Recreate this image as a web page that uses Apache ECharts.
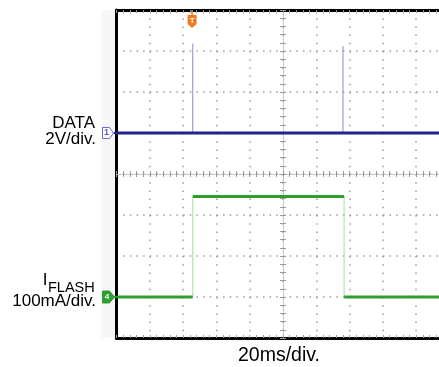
<!DOCTYPE html>
<html><head><meta charset="utf-8">
<script src="https://cdn.jsdelivr.net/npm/echarts@6/dist/echarts.min.js"></script>
<style>html,body{margin:0;padding:0;background:#fff}#c{width:439px;height:367px}</style>
</head><body><div id="c"></div>
<script>
// Horizontal: time in ms relative to screen centre, 20 ms/div, 10 divisions
const timeMin = -100, timeMax = 100, timeStep = 20;
// Vertical: screen divisions, 8 divisions
const divMin = -4, divMax = 4, divStep = 1;

// DATA channel (in divisions, 2V/div)
const dataBaseTimes = [-100, 100];
const dataBaseLevel = 1.0;
const dataPulseTimes = [-54.2, 36.0];
const dataPulseTops = [3.18, 3.12];

// I_FLASH channel (in divisions, 100mA/div)
const flashTimes = [-100, -54.2, 36.7, 100];   // segment boundaries
const flashLevels = [-3.0, -0.55, -3.0];        // level within each segment

const triggerTime = -54.6;

// text
const ch1Name = 'DATA', ch1Scale = '2V/div.';
const ch2Main = 'I', ch2Sub = 'FLASH', ch2Scale = '100mA/div.';
const timeScale = '20ms/div.';

const FONT = '"Liberation Sans", Arial, sans-serif';
const GRID = {left: 116.5, top: 10, width: 333, height: 328, outerBoundsMode: 'none', containLabel: false};
const dotCol = '#9a9a9a';

const series = [];
// DATA baseline (thick)
series.push({type:'line', data: dataBaseTimes.map(t => [t, dataBaseLevel]),
  symbol:'none', lineStyle:{color:'#23238e', width:3}, z:5});
// DATA pulses (thin)
dataPulseTimes.forEach((t, i) => series.push({type:'line',
  data: [[t, dataBaseLevel], [t, dataPulseTops[i]]],
  symbol:'none', lineStyle:{color:'#8a8ad6', width:1}, z:4}));
// FLASH edges (thin)
for (let i = 1; i < flashTimes.length - 1; i++) {
  series.push({type:'line', data: [[flashTimes[i], flashLevels[i-1]], [flashTimes[i], flashLevels[i]]],
    symbol:'none', lineStyle:{color:'#a6dca6', width:1}, z:4});
}
// FLASH levels (thick)
for (let i = 0; i < flashLevels.length; i++) {
  series.push({type:'line', data: [[flashTimes[i], flashLevels[i]], [flashTimes[i+1], flashLevels[i]]],
    symbol:'none', lineStyle:{color:'#2e9e2e', width:3}, z:5});
}
series.forEach(s => { s.silent = true; s.animation = false; s.xAxisIndex = 0; s.yAxisIndex = 0; });

const baseX = {type:'value', min: timeMin, max: timeMax, interval: timeStep,
  axisLabel:{show:false}, splitLine:{show:false}};
const baseY = {type:'value', min: divMin, max: divMax, interval: divStep,
  axisLabel:{show:false}, splitLine:{show:false}};

const option = {
  animation:false,
  backgroundColor:'#fff',
  grid: GRID,
  xAxis: [
    Object.assign({}, baseX, {position:'bottom',
      axisLine:{onZero:false, lineStyle:{color:'#000', width:3}},
      axisTick:{show:true, inside:true, length:3, lineStyle:{color:dotCol}},
      minorTick:{show:true, splitNumber:5, length:3, lineStyle:{color:dotCol}},
      splitLine:{show:true, lineStyle:{color:dotCol, width:1.5, type:[1.5, 6.7]}}}),
    Object.assign({}, baseX, {position:'top',
      axisLine:{onZero:false, lineStyle:{color:'#000', width:3}},
      axisTick:{show:true, inside:true, length:3, lineStyle:{color:dotCol}},
      minorTick:{show:true, splitNumber:5, length:3, lineStyle:{color:dotCol}}}),
    Object.assign({}, baseX, {position:'bottom',
      axisLine:{onZero:true, onZeroAxisIndex:0, lineStyle:{color:'#c4c4c4', width:1}},
      axisTick:{show:true, inside:true, length:3, lineStyle:{color:dotCol}},
      minorTick:{show:true, splitNumber:5, length:3, lineStyle:{color:dotCol}}}),
    Object.assign({}, baseX, {position:'bottom',
      axisLine:{show:true, onZero:true, onZeroAxisIndex:0, lineStyle:{color:'rgba(0,0,0,0)', width:1}},
      axisTick:{show:true, inside:false, length:3, lineStyle:{color:dotCol}},
      minorTick:{show:true, splitNumber:5, length:3, lineStyle:{color:dotCol}}})
  ],
  yAxis: [
    Object.assign({}, baseY, {position:'left',
      axisLine:{onZero:false, lineStyle:{color:'#000', width:3}},
      axisTick:{show:false},
      splitLine:{show:true, lineStyle:{color:dotCol, width:1.5, type:[1.5, 5.16]}}}),
    Object.assign({}, baseY, {position:'left',
      axisLine:{onZero:true, onZeroAxisIndex:0, lineStyle:{color:'#c4c4c4', width:1}},
      axisTick:{show:true, inside:true, length:3, lineStyle:{color:dotCol}},
      minorTick:{show:true, splitNumber:5, length:3, lineStyle:{color:dotCol}}}),
    Object.assign({}, baseY, {position:'left',
      axisLine:{show:true, onZero:true, onZeroAxisIndex:0, lineStyle:{color:'rgba(0,0,0,0)', width:1}},
      axisTick:{show:true, inside:false, length:3, lineStyle:{color:dotCol}},
      minorTick:{show:true, splitNumber:5, length:3, lineStyle:{color:dotCol}}})
  ],
  series: series
};

const chart = echarts.init(document.getElementById('c'), null, {renderer:'canvas'});
chart.setOption(option);

const px = (t, v) => chart.convertToPixel({xAxisIndex:0, yAxisIndex:0}, [t, v]);
const y1 = px(0, dataBaseLevel)[1];
const y2 = px(0, flashLevels[0])[1];
const tx = px(triggerTime, 0)[0];
const gL = GRID.left, gT = GRID.top;

function txt(text, x, y, size, align) {
  return {type:'text', x:x, y:y, z:20, style:{text:text, fontFamily:FONT, fontSize:size,
    fill:'#000', align:align || 'right', verticalAlign:'middle'}};
}

const graphic = [
  {type:'rect', z:-10, shape:{x:gL-15, y:gT, width:15, height:GRID.height}, style:{fill:'#f7f7f7'}},
  // channel 1 marker
  {type:'line', z:20, shape:{x1:gL-3, y1:y1, x2:gL, y2:y1}, style:{stroke:'#23238e', lineWidth:2}},
  {type:'polygon', z:20, shape:{points:[[gL-14,y1-5.5],[gL-7,y1-5.5],[gL-3,y1],[gL-7,y1+5.5],[gL-14,y1+5.5]]},
    style:{fill:'#fff', stroke:'#6b6bd4', lineWidth:1}},
  {type:'text', z:21, x:gL-10, y:y1, style:{text:'1', fontFamily:FONT, fontSize:9, fontWeight:'bold',
    fill:'#5a5acc', align:'center', verticalAlign:'middle'}},
  // channel 4 marker
  {type:'line', z:20, shape:{x1:gL-3, y1:y2, x2:gL, y2:y2}, style:{stroke:'#2e9e2e', lineWidth:2}},
  {type:'polygon', z:20, shape:{points:[[gL-14,y2-6],[gL-7,y2-6],[gL-2,y2],[gL-7,y2+6],[gL-14,y2+6]]},
    style:{fill:'#2e9e2e', stroke:'#2e9e2e', lineWidth:1}},
  {type:'text', z:21, x:gL-9.5, y:y2, style:{text:'4', fontFamily:FONT, fontSize:8, fontWeight:'bold',
    fill:'#fff', align:'center', verticalAlign:'middle'}},
  // trigger marker
  {type:'line', z:20, shape:{x1:tx, y1:gT, x2:tx, y2:gT+5}, style:{stroke:'#f07a22', lineWidth:1.5}},
  {type:'polygon', z:20, shape:{points:[[tx-4.5,gT+5],[tx+4.5,gT+5],[tx+4.5,gT+14],[tx,gT+18],[tx-4.5,gT+14]]},
    style:{fill:'#f07a22'}},
  {type:'text', z:21, x:tx, y:gT+11, style:{text:'T', fontFamily:FONT, fontSize:8, fontWeight:'bold',
    fill:'#fff', align:'center', verticalAlign:'middle'}},
  // labels
  txt(ch1Name, 95, 123, 17),
  txt(ch1Scale, 96, 139, 17),
  txt(ch2Main, 47.5, 280.5, 17),
  txt(ch2Sub, 48, 287.5, 14.5, 'left'),
  txt(ch2Scale, 96, 301.5, 17),
  txt(timeScale, 279, 356, 19.5, 'center')
];
chart.setOption({graphic: graphic});
</script>
</body></html>
